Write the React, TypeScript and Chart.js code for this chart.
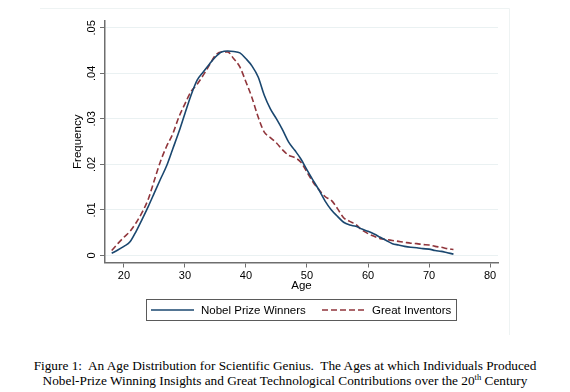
import React, { useEffect, useRef } from "react";
import { Chart, registerables } from "chart.js";

Chart.register(...registerables);

const ages = [
  18, 19, 20, 21, 22, 23, 24, 25, 26, 27, 28, 29, 30, 31, 32, 33, 34, 35, 36,
  37, 38, 39, 40, 41, 42, 43, 44, 45, 46, 47, 48, 49, 50, 51, 52, 53, 54, 55,
  56, 57, 58, 59, 60, 61, 62, 63, 64, 65, 66, 67, 68, 69, 70, 71, 72, 73, 74,
];

const nobelWinners = [
  0.0005, 0.0012, 0.002, 0.003, 0.0053, 0.008, 0.0108, 0.0138, 0.0168, 0.0197,
  0.0234, 0.0271, 0.0312, 0.0352, 0.0385, 0.0403, 0.042, 0.0436, 0.0447,
  0.0449, 0.0448, 0.0445, 0.0432, 0.0416, 0.0392, 0.0352, 0.0322, 0.03,
  0.0276, 0.0249, 0.0231, 0.0212, 0.0188, 0.0165, 0.0143, 0.0119, 0.01,
  0.0086, 0.0073, 0.0067, 0.0064, 0.0058, 0.0053, 0.0047, 0.004, 0.0033,
  0.0026, 0.0023, 0.002, 0.0018, 0.0017, 0.0015, 0.0014, 0.0011, 0.0009,
  0.0006, 0.0003,
];

const greatInventors = [
  0.0011, 0.0026, 0.004, 0.0053, 0.0072, 0.0095, 0.0124, 0.0166, 0.0207,
  0.024, 0.0267, 0.0304, 0.0333, 0.036, 0.0376, 0.0396, 0.0418, 0.044,
  0.0447, 0.0447, 0.0432, 0.0414, 0.0381, 0.0346, 0.0304, 0.0271, 0.0259,
  0.0247, 0.0232, 0.022, 0.0215, 0.0205, 0.0183, 0.0161, 0.0144, 0.0129,
  0.0121, 0.0103, 0.0083, 0.0075, 0.0068, 0.0056, 0.0048, 0.0042, 0.0037,
  0.0035, 0.0033, 0.0031, 0.0029, 0.0027, 0.0026, 0.0024, 0.0023, 0.002,
  0.0018, 0.0015, 0.0013,
];

const seriesLabels = ["Nobel Prize Winners", "Great Inventors"];
const xTicks = [20, 30, 40, 50, 60, 70, 80];
const yTicks = [0, 0.01, 0.02, 0.03, 0.04, 0.05];
const yTickLabels = ["0", ".01", ".02", ".03", ".04", ".05"];

const NAVY = "#1a476f";
const MAROON = "#90353b";
const AXIS = "#6e6e6e";
const GRID = "#eaf1f2";
const SANS = "'Liberation Sans', Arial, Helvetica, sans-serif";

const stataPlugin = {
  id: "stataDecor",
  beforeDraw(chart: any) {
    const ctx = chart.ctx;
    ctx.save();
    ctx.fillStyle = "#ffffff";
    ctx.fillRect(0, 0, chart.width, chart.height);
    ctx.strokeStyle = "#eef3f3";
    ctx.lineWidth = 1;
    ctx.beginPath();
    ctx.moveTo(40, 8.5);
    ctx.lineTo(509.5, 8.5);
    ctx.lineTo(509.5, 335);
    ctx.stroke();
    ctx.restore();
  },
  afterDraw(chart: any) {
    const ctx = chart.ctx;
    const ds = chart.data.datasets;
    ctx.save();
    ctx.strokeStyle = "#5a5a5a";
    ctx.lineWidth = 1;
    ctx.strokeRect(146.5, 299.5, 310, 21);
    const cy = 310;
    const items = [
      { x0: 151, x1: 194, tx: 201 },
      { x0: 322, x1: 365, tx: 372 },
    ];
    ctx.font = "11.5px " + SANS;
    ctx.textBaseline = "middle";
    ctx.textAlign = "left";
    items.forEach((it, i) => {
      const d = ds[i];
      ctx.strokeStyle = d.borderColor;
      ctx.lineWidth = d.borderWidth;
      ctx.setLineDash(d.borderDash || []);
      ctx.beginPath();
      ctx.moveTo(it.x0, cy);
      ctx.lineTo(it.x1, cy);
      ctx.stroke();
      ctx.setLineDash([]);
      ctx.fillStyle = "#000";
      ctx.fillText(d.label, it.tx, cy + 0.5);
    });
    ctx.restore();
  },
};

export default function App() {
  const ref = useRef<HTMLCanvasElement | null>(null);

  useEffect(() => {
    if (!ref.current) return;
    const chart = new Chart(ref.current, {
      type: "line",
      data: {
        datasets: [
          {
            label: seriesLabels[0],
            data: ages.map((a, i) => ({ x: a, y: nobelWinners[i] })),
            borderColor: NAVY,
            borderWidth: 1.6,
            pointRadius: 0,
            fill: false,
            cubicInterpolationMode: "monotone",
          },
          {
            label: seriesLabels[1],
            data: ages.map((a, i) => ({ x: a, y: greatInventors[i] })),
            borderColor: MAROON,
            borderWidth: 1.6,
            borderDash: [6, 3],
            pointRadius: 0,
            fill: false,
            cubicInterpolationMode: "monotone",
          },
        ],
      },
      options: {
        animation: false,
        responsive: false,
        devicePixelRatio: 1,
        layout: { padding: { left: 71, top: 21, right: 72, bottom: 47 } },
        plugins: {
          legend: { display: false },
          tooltip: { enabled: false },
        },
        scales: {
          x: {
            type: "linear",
            min: 16.9,
            max: 81.3,
            afterFit: (s: any) => {
              s.height = 30.5;
            },
            afterBuildTicks: (s: any) => {
              s.ticks = xTicks.map((v) => ({ value: v }));
            },
            ticks: {
              includeBounds: false,
              autoSkip: false,
              maxRotation: 0,
              padding: 2,
              color: "#000",
              font: { family: SANS, size: 11 },
            },
            grid: {
              drawOnChartArea: false,
              tickLength: 5,
              tickColor: AXIS,
              tickWidth: 1,
            },
            border: { color: AXIS, width: 1.5 },
            title: {
              display: true,
              text: "Age",
              color: "#000",
              padding: 0,
              font: { family: SANS, size: 11.5 },
            },
          },
          y: {
            type: "linear",
            min: -0.00154,
            max: 0.0515,
            afterFit: (s: any) => {
              s.width = 34;
            },
            afterBuildTicks: (s: any) => {
              s.ticks = yTicks.map((v) => ({ value: v }));
            },
            ticks: {
              includeBounds: false,
              autoSkip: false,
              minRotation: 90,
              maxRotation: 90,
              crossAlign: "center",
              padding: 0,
              color: "#000",
              font: { family: SANS, size: 11 },
              callback: (v: any) => {
                const idx = yTicks.findIndex((t) => Math.abs(t - v) < 1e-9);
                return idx >= 0 ? yTickLabels[idx] : "";
              },
            },
            grid: {
              color: GRID,
              lineWidth: 1,
              tickLength: 5,
              tickColor: AXIS,
              tickWidth: 1,
            },
            border: { color: AXIS, width: 1.5 },
            title: {
              display: true,
              text: "Frequency",
              color: "#000",
              padding: 0,
              font: { family: SANS, size: 11.5 },
            },
          },
        },
      },
      plugins: [stataPlugin],
    } as any);
    return () => chart.destroy();
  }, []);

  return (
    <div
      style={{
        position: "absolute",
        left: 0,
        top: 0,
        width: 570,
        height: 392,
        background: "#fff",
        overflow: "hidden",
      }}
    >
      <canvas
        ref={ref}
        width={570}
        height={340}
        style={{ display: "block", width: 570, height: 340 }}
      />
      <div
        style={{
          position: "absolute",
          left: 0,
          top: 358,
          width: 570,
          textAlign: "center",
          fontFamily: "'Liberation Serif', 'Times New Roman', serif",
          fontSize: 13.3,
          lineHeight: "15px",
          color: "#000",
          whiteSpace: "nowrap",
        }}
      >
        <div>
          Figure 1:&nbsp; An Age Distribution for Scientific Genius.&nbsp; The
          Ages at which Individuals Produced
        </div>
        <div>
          Nobel-Prize Winning Insights and Great Technological Contributions
          over the 20
          <sup style={{ fontSize: 8.5, lineHeight: 0, verticalAlign: "5px" }}>
            th
          </sup>{" "}
          Century
        </div>
      </div>
    </div>
  );
}
